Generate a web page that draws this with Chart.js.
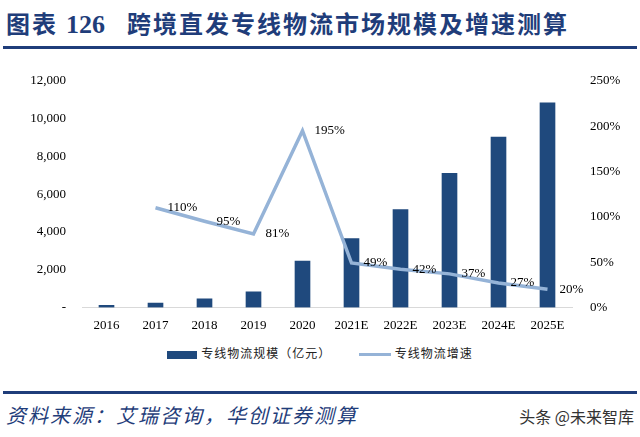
<!DOCTYPE html>
<html>
<head>
<meta charset="utf-8">
<script src="https://cdn.jsdelivr.net/npm/chart.js@4"></script>
<style>
  body { margin: 0; background: #fff; width: 640px; height: 437px; position: relative; overflow: hidden; }
  #title { position: absolute; left: 6px; top: 5px; font-family: "Noto Sans CJK SC"; font-weight: bold; font-size: 24px; color: #1f3d7a; white-space: nowrap; letter-spacing: 2px; }
  #title .num { font-family: "Liberation Serif"; font-size: 26px; margin: 0 22px 0 8px; letter-spacing: 0; }
  .rule { position: absolute; left: 3px; width: 634px; height: 3px; background: #1f3d7a; }
  #wrap { position: absolute; left: 0; top: 55px; width: 640px; height: 288px; }
  #legend { position: absolute; top: 344px; left: 0; width: 640px; text-align: center; font-family: "Noto Sans CJK SC"; font-size: 12px; color: #222; letter-spacing: 1px; }
  #legend span.item { display: inline-block; margin: 0 12px; }
  .sw { display: inline-block; vertical-align: middle; margin-right: 4px; }
  #source { position: absolute; left: 6px; top: 400px; font-family: "Noto Sans CJK SC"; font-style: italic; font-size: 20px; color: #1f3d7a; letter-spacing: 2px; }
  #mark { position: absolute; right: 6px; top: 404px; font-family: "Noto Sans CJK SC"; font-size: 16px; color: #333; }
</style>
</head>
<body>
<div id="title">图表<span class="num">126</span>跨境直发专线物流市场规模及增速测算</div>
<div class="rule" style="top:46px"></div>
<div id="wrap"><canvas id="myChart"></canvas></div>
<div id="legend">
  <span class="item"><span class="sw" style="width:30px;height:8px;background:#1f497d"></span>专线物流规模（亿元）</span>
  <span class="item"><span class="sw" style="width:32px;height:3px;background:#95b3d7"></span>专线物流增速</span>
</div>
<div class="rule" style="top:391px"></div>
<div id="source">资料来源：艾瑞咨询，华创证券测算</div>
<div id="mark">头条 @未来智库</div>
<script>
'use strict';

// data
var years = ['2016', '2017', '2018', '2019', '2020', '2021E', '2022E', '2023E', '2024E', '2025E'];
var scale = [112, 235, 459, 830, 2450, 3650, 5180, 7100, 9020, 10830];
var growth = [null, 110, 95, 81, 195, 49, 42, 37, 27, 20];

// percent labels to the right of each line point
var lineLabels = {
  id: 'lineLabels',
  afterDatasetsDraw: function(chart) {
    var ctx = chart.ctx;
    var meta = chart.getDatasetMeta(1);
    ctx.save();
    ctx.font = '13px "Liberation Serif"';
    ctx.fillStyle = '#000';
    ctx.textBaseline = 'middle';
    ctx.textAlign = 'left';
    for (var i = 0; i < meta.data.length; i++) {
      if (growth[i] === null) continue;
      var pt = meta.data[i];
      ctx.fillText(growth[i] + '%', pt.x + 12, pt.y);
    }
    ctx.restore();
  }
};

var tickFont = { family: 'Liberation Serif', size: 13 };

var ctx = document.getElementById('myChart').getContext('2d');
var chart = new Chart(ctx, {
  type: 'bar',
  data: {
    labels: years,
    datasets: [{
      label: '专线物流规模（亿元）',
      data: scale,
      backgroundColor: '#1f497d',
      barThickness: 15,
      yAxisID: 'y',
      order: 2
    }, {
      type: 'line',
      label: '专线物流增速',
      data: growth,
      borderColor: '#95b3d7',
      borderWidth: 3.5,
      pointRadius: 0,
      tension: 0,
      yAxisID: 'y1',
      order: 1
    }]
  },
  options: {
    responsive: true,
    maintainAspectRatio: false,
    animation: false,
    layout: { padding: { top: 15, left: 0, right: 0, bottom: 0 } },
    plugins: { legend: { display: false }, tooltip: { enabled: false } },
    scales: {
      x: {
        grid: { display: false, drawTicks: false },
        border: { display: true, color: '#d9d9d9', width: 1 },
        ticks: { font: tickFont, color: '#000', padding: 10 }
      },
      y: {
        position: 'left',
        min: 0, max: 12000,
        grid: { display: false, drawTicks: false },
        border: { display: false },
        afterFit: function(s) { s.width = 82; },
        ticks: {
          stepSize: 2000, font: tickFont, color: '#000', padding: 16,
          callback: function(v) { return v === 0 ? '-' : v.toLocaleString('en-US'); }
        }
      },
      y1: {
        position: 'right',
        min: 0, max: 250,
        grid: { display: false, drawTicks: false },
        border: { display: false },
        afterFit: function(s) { s.width = 68; },
        ticks: {
          stepSize: 50, font: tickFont, color: '#000', padding: 18,
          callback: function(v) { return v + '%'; }
        }
      }
    }
  },
  plugins: [lineLabels]
});
</script>
</body>
</html>
